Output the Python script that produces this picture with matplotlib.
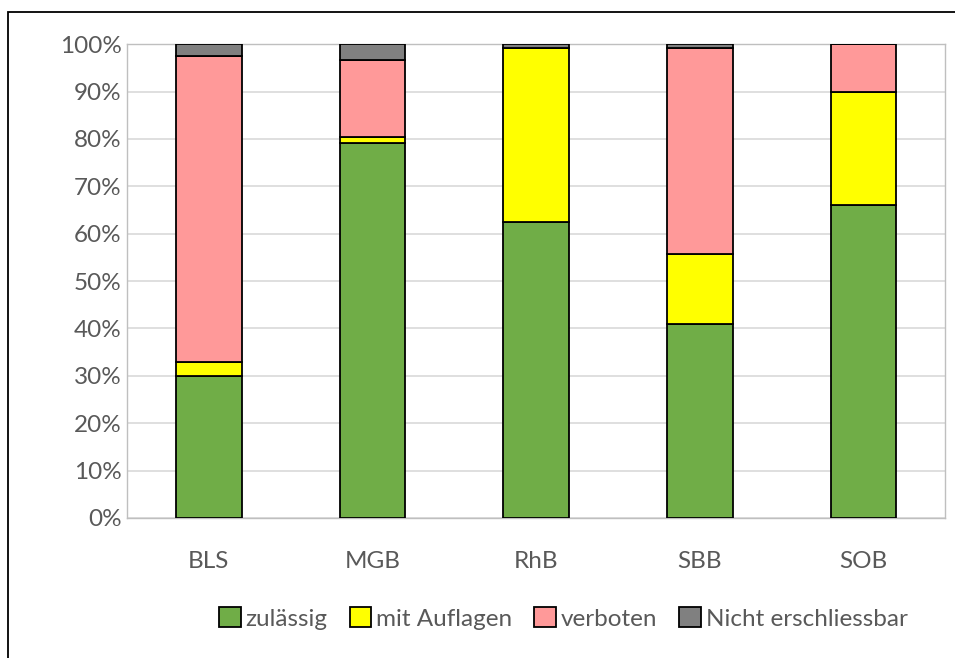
import matplotlib.pyplot as plt
from matplotlib.patches import Rectangle
import numpy as np

# data
operators = ["BLS", "MGB", "RhB", "SBB", "SOB"]
zulaessig = [30.0, 79.2, 62.5, 41.0, 66.0]
mit_auflagen = [3.0, 1.2, 36.7, 14.8, 24.0]
verboten = [64.5, 16.2, 0.0, 43.4, 10.0]
nicht_erschliessbar = [2.5, 3.4, 0.8, 0.8, 0.0]

series = [
    ("zulässig", zulaessig, "#70AD47"),
    ("mit Auflagen", mit_auflagen, "#FFFF00"),
    ("verboten", verboten, "#FF9999"),
    ("Nicht erschliessbar", nicht_erschliessbar, "#808080"),
]

plt.rcParams["font.family"] = ["Lato", "DejaVu Sans"]
text_col = "#595959"
fs = 17.5

fig = plt.figure(figsize=(9.55, 6.58), dpi=100)
ax = fig.add_axes([0.133, 0.2128, 0.857, 0.72])

# outer chart frame (only left and top visible in the reference)
fig.patches.append(Rectangle((8 / 955, -0.1), 1.2, 1 - 12 / 658 + 0.1,
                             transform=fig.transFigure, fill=False,
                             edgecolor="black", linewidth=1.3))

x = np.arange(len(operators))
bottom = np.zeros(len(operators))
for name, vals, col in series:
    vals = np.array(vals)
    ax.bar(x, vals, 0.4, bottom=bottom, color=col, edgecolor="black",
           linewidth=1.3, label=name, zorder=3)
    bottom += vals

ax.set_xlim(-0.5, 4.5)
ax.set_ylim(0, 100)
ax.set_yticks(np.arange(0, 101, 10))
ax.set_yticklabels([f"{v}%" for v in range(0, 101, 10)])
ax.set_xticks(x)
ax.set_xticklabels(operators)
ax.tick_params(length=0, labelsize=fs, colors=text_col, pad=4)
ax.tick_params(axis="x", pad=24)
ax.grid(axis="y", color="#D9D9D9", linewidth=1.2, zorder=0)
for s in ax.spines.values():
    s.set_color("#BFBFBF")
    s.set_linewidth(1.0)

leg = fig.legend(loc="center", bbox_to_anchor=(0.59, 0.06), ncol=4,
                 frameon=False, fontsize=fs, handlelength=0.9,
                 handleheight=0.9, handletextpad=0.2, columnspacing=0.9)
for t in leg.get_texts():
    t.set_color(text_col)

fig.savefig("out.png", dpi=100, facecolor="white")
